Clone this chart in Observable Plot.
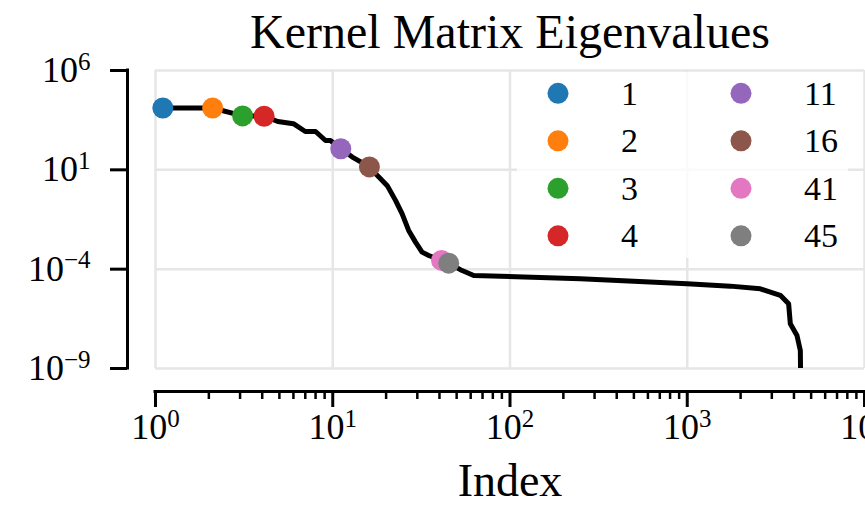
<!DOCTYPE html>
<html><head><meta charset="utf-8">
<script src="https://cdn.jsdelivr.net/npm/d3@7"></script>
<script src="https://cdn.jsdelivr.net/npm/@observablehq/plot@0.6"></script>
<style>
body{margin:0;background:#fff;}
#wrap{position:relative;width:865px;height:505px;overflow:hidden;}
</style></head><body><div id="wrap"></div>
<script>
const title = "Kernel Matrix Eigenvalues";
const xLabel = "Index";
// eigenvalue curve
const lineIndex = [1.1, 2.1, 3.1, 4.1, 4.9, 6.0, 7.0, 8.0, 9.1, 9.7, 11.1, 12.9, 16.1, 18.2, 20.3, 22.6, 24.6, 26.8, 29.3, 31.9, 34.8, 41.1, 45.1, 53.7, 62.4, 249, 500, 997, 1750, 2585, 3350, 3732, 3815, 4160, 4345, 4380];
const lineValue = [1.3e4, 1.3e4, 5.2e3, 5.0e3, 2.7e3, 2.1e3, 8.5e2, 8.5e2, 3.0e2, 3.0e2, 1.15e2, 44, 14, 4.3, 1.6, 0.29, 0.062, 0.0089, 0.0023, 7.2e-4, 4.9e-4, 2.75e-4, 2.0e-4, 8.5e-5, 4.8e-5, 3.3e-5, 2.45e-5, 1.86e-5, 1.4e-5, 1.02e-5, 4.8e-6, 1.8e-6, 1.8e-7, 4.6e-8, 8.1e-9, 1e-11];
// highlighted eigenvalues
const pointLabels = ["1", "2", "3", "4", "11", "16", "41", "45"];
const pointX = [1.1, 2.1, 3.1, 4.1, 11.1, 16.1, 41.1, 45.1];
const pointValue = [1.3e4, 1.3e4, 5.2e3, 5.0e3, 1.15e2, 14, 2.75e-4, 2.0e-4];
const pointColors = ["#1f77b4", "#ff7f0e", "#2ca02c", "#d62728", "#9467bd", "#8c564b", "#e377c2", "#7f7f7f"];
// ticks
const xMajorTicks = [1, 10, 100, 1000, 10000];
const xTickLabels = ["10^0", "10^1", "10^2", "10^3", "10^4"];
const xMinorTicks = [2,3,4,5,6,7,8,9,20,30,40,50,60,70,80,90,200,300,400,500,600,700,800,900,2000,3000,4000,5000,6000,7000,8000,9000];
const yTicks = [1e6, 1e1, 1e-4, 1e-9];
const yTickLabels = ["10^6", "10^1", "10^-4", "10^-9"];

const lineData = lineIndex.map((x, i) => ({x, y: lineValue[i]}));
const pointData = pointX.map((x, i) => ({x, y: pointValue[i], label: pointLabels[i], color: pointColors[i]}));

const FONT = "Liberation Serif";
const gridColor = "#e6e6e6";
const LINE_W = 5;

const svg = Plot.plot({
  width: 865,
  height: 505,
  marginTop: 70,
  marginBottom: 137,
  marginLeft: 155,
  marginRight: 1,
  style: {fontFamily: FONT, background: "white", overflow: "hidden"},
  x: {type: "log", domain: [1, 1e4], axis: null},
  y: {type: "log", domain: [1e-9, 1e6], axis: null},
  marks: [
    Plot.ruleX(xMajorTicks, {stroke: gridColor, strokeWidth: 2.5}),
    Plot.ruleY(yTicks, {stroke: gridColor, strokeWidth: 2.5}),
    Plot.line(lineData, {x: "x", y: "y", stroke: "black", strokeWidth: LINE_W, strokeLinejoin: "round", clip: true}),
    Plot.dot(pointData, {x: "x", y: "y", r: 10.5, fill: "color", stroke: null}),
    // offset spines
    Plot.ruleX([1], {dx: -28, stroke: "black", strokeWidth: 3, strokeLinecap: "square"}),
    Plot.ruleY([1e-9], {dy: 23, stroke: "black", strokeWidth: 3, strokeLinecap: "square"}),
    Plot.axisY(yTicks, {anchor: "left", dx: -28, tickSize: 17, tickPadding: 20, strokeWidth: 3, fontSize: 36, label: null, tickFormat: d => yTickLabels[yTicks.indexOf(d)]}),
    Plot.axisX(xMajorTicks, {anchor: "bottom", dy: 23, tickSize: 16, tickPadding: 6, strokeWidth: 3, fontSize: 36, label: null, tickFormat: d => xTickLabels[xMajorTicks.indexOf(d)]}),
    Plot.axisX(xMinorTicks, {anchor: "bottom", dy: 23, tickSize: 8, strokeWidth: 2.5, tickFormat: () => "", label: null}),
    Plot.text([title], {frameAnchor: "top", dy: -23, lineAnchor: "bottom", fontSize: 48, fill: "black"}),
    Plot.text([xLabel], {frameAnchor: "bottom", dy: 127, lineAnchor: "bottom", fontSize: 46, fill: "black"})
  ]
});

// superscript exponents in tick labels
d3.select(svg).selectAll('g[aria-label="x-axis tick label"] text, g[aria-label="y-axis tick label"] text').each(function() {
  const t = this.textContent;
  if (!t.includes("^")) return;
  const [base, exp] = t.split("^");
  const sel = d3.select(this);
  sel.text(null);
  sel.append("tspan").text(base);
  sel.append("tspan").attr("dy", "-0.5em").attr("font-size", 25).text(exp.replace("-", "\u2212"));
});

// legend (two columns, semi-transparent white box)
const lg = d3.select(svg).append("g").attr("font-family", FONT).attr("text-anchor", "start");
lg.append("rect").attr("x", 517).attr("y", 72).attr("width", 331).attr("height", 186).attr("rx", 5)
  .attr("fill", "white").attr("fill-opacity", 0.8);
pointData.forEach((d, i) => {
  const col = Math.floor(i / 4), row = i % 4;
  const cy = 93.3 + row * 47.5;
  const cx = col === 0 ? 558 : 741;
  const tx = col === 0 ? 621 : 804;
  lg.append("circle").attr("cx", cx).attr("cy", cy).attr("r", 10.5).attr("fill", d.color);
  lg.append("text").attr("x", tx).attr("y", cy).attr("dy", "0.34em").attr("font-size", 34).attr("fill", "black").text(d.label);
});

document.getElementById("wrap").appendChild(svg);
</script>
</body></html>
